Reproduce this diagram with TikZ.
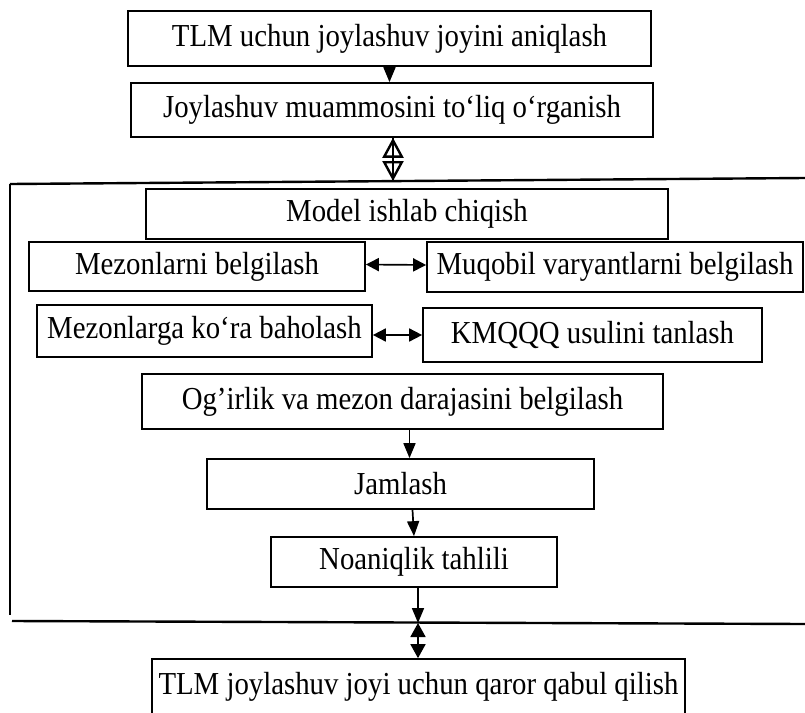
\documentclass[tikz,border=0pt]{standalone}
\usepackage{fontspec}
\setmainfont{Liberation Serif}[FakeStretch=0.9]
\usetikzlibrary{arrows.meta,positioning}
\tikzset{
	blok/.style={draw, line width=0.85pt, rectangle, inner sep=0pt, font=\fontsize{16}{18}\selectfont},
	strelka/.style={line width=0.85pt, -{Triangle[length=7.5pt,width=6pt]}},
	ikki/.style={line width=0.85pt, {Triangle[length=6.5pt,width=6.5pt]}-{Triangle[length=6.5pt,width=6.5pt]}},
	ochiq/.style={line width=1.2pt, {Triangle[open,length=10pt,width=10.5pt]}-{Triangle[open,length=10pt,width=10.5pt]}},
	ramka/.style={line width=1.2pt}
}

\begin{document}
\begin{tikzpicture}[x=0.5pt, y=-0.5pt]
	\useasboundingbox (0,0) rectangle (805,713);
	\clip (0,0) rectangle (805,713);
	\node[blok, minimum width=261.5pt, minimum height=27.5pt] (aniqlash) at (389.5,38.5) {TLM uchun joylashuv joyini aniqlash};
	\node[blok, minimum width=261pt, minimum height=27pt] (organish) at (392,110) {Joylashuv muammosini to‘liq o‘rganish};
	\node[blok, minimum width=261pt, minimum height=25pt] (model) at (407,214) {Model ishlab chiqish};
	\node[blok, minimum width=168pt, minimum height=24.5pt] (mezon) at (197,266.5) {Mezonlarni belgilash};
	\node[blok, minimum width=188pt, minimum height=25pt] (muqobil) at (615,267) {Muqobil varyantlarni belgilash};
	\node[blok, minimum width=167.5pt, minimum height=26pt] (baholash) at (204.5,331) {Mezonlarga ko‘ra baholash};
	\node[blok, minimum width=169.5pt, minimum height=27pt] (kmqqq) at (592.5,335) {KMQQQ usulini tanlash};
	\node[blok, minimum width=260.5pt, minimum height=27.5pt] (ogirlik) at (402.5,401.5) {Og’irlik va mezon darajasini belgilash};
	\node[blok, minimum width=193.5pt, minimum height=25pt] (jamlash) at (400.5,484) {Jamlash};
	\node[blok, minimum width=143pt, minimum height=25pt] (noaniqlik) at (414,562) {Noaniqlik tahlili};
	\node[blok, minimum width=266.5pt, minimum height=28pt] (qaror) at (418.5,687) {TLM joylashuv joyi uchun qaror qabul qilish};

	\coordinate (ramkaTL) at (10,184);
	\coordinate (ramkaTR) at (805,178);
	\coordinate (ramkaBL) at (10,615);
	\coordinate (pastL) at (12,621);
	\coordinate (pastR) at (805,624);
	\coordinate (yuqori) at (393,181);
	\coordinate (past) at (418,623);
	\draw[ramka] (ramkaTL) -- (ramkaTR);
	\draw[ramka] (ramkaTL) -- (ramkaBL);
	\draw[ramka] (pastL) -- (pastR);

	\draw[strelka] (aniqlash.south) -- (aniqlash.south |- organish.north);
	\draw[ochiq] (organish.south -| yuqori) -- (yuqori);
	\draw[line width=0.85pt] (organish.south -| yuqori) -- (yuqori);
	\draw[ikki] ([yshift=1pt]mezon.east) -- ([yshift=1pt]muqobil.west);
	\draw[ikki] (baholash.east |- kmqqq.west) -- (kmqqq.west);
	\draw[strelka] ([xshift=3.5pt]ogirlik.south) -- ([xshift=4.5pt]jamlash.north);
	\draw[strelka] ([xshift=6pt]jamlash.south) -- (noaniqlik.north);
	\draw[strelka] (noaniqlik.south -| past) -- (past);
	\draw[line width=0.85pt, {Triangle[length=7pt,width=7.5pt]}-{Triangle[length=7pt,width=7.5pt]}] (past) -- (qaror.north -| past);
\end{tikzpicture}
\end{document}
